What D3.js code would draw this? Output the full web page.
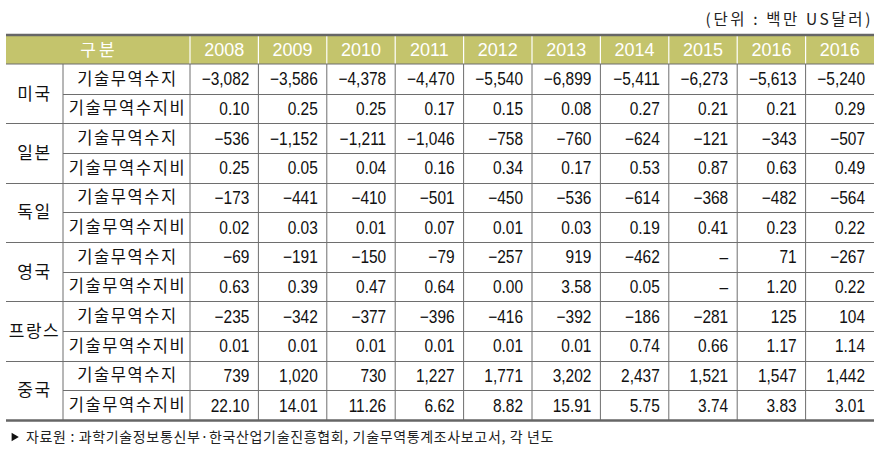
<!DOCTYPE html>
<html><head><meta charset="utf-8">
<script src="https://cdn.jsdelivr.net/npm/d3@7"></script>
<style>
html,body{margin:0;padding:0;background:#fff;}
svg{display:block;}
</style></head>
<body>
<svg id="chart" width="888" height="453"></svg>
<script>
const years = ['2008','2009','2010','2011','2012','2013','2014','2015','2016','2016'];
const countries = ['미국','일본','독일','영국','프랑스','중국'];
const metrics = ['기술무역수지','기술무역수지비'];
const balanceUS = [-3082,-3586,-4378,-4470,-5540,-6899,-5411,-6273,-5613,-5240];
const ratioUS = [0.10,0.25,0.25,0.17,0.15,0.08,0.27,0.21,0.21,0.29];
const balanceJP = [-536,-1152,-1211,-1046,-758,-760,-624,-121,-343,-507];
const ratioJP = [0.25,0.05,0.04,0.16,0.34,0.17,0.53,0.87,0.63,0.49];
const balanceDE = [-173,-441,-410,-501,-450,-536,-614,-368,-482,-564];
const ratioDE = [0.02,0.03,0.01,0.07,0.01,0.03,0.19,0.41,0.23,0.22];
const balanceUK = [-69,-191,-150,-79,-257,919,-462,null,71,-267];
const ratioUK = [0.63,0.39,0.47,0.64,0.00,3.58,0.05,null,1.20,0.22];
const balanceFR = [-235,-342,-377,-396,-416,-392,-186,-281,125,104];
const ratioFR = [0.01,0.01,0.01,0.01,0.01,0.01,0.74,0.66,1.17,1.14];
const balanceCN = [739,1020,730,1227,1771,3202,2437,1521,1547,1442];
const ratioCN = [22.10,14.01,11.26,6.62,8.82,15.91,5.75,3.74,3.83,3.01];
const headerLabel = '구분';
const unitText = '(단위 : 백만 US달러)';
const sourceText = '자료원 : 과학기술정보통신부·한국산업기술진흥협회, 기술무역통계조사보고서, 각 년도';

const seriesByCountry = [
  [balanceUS, ratioUS],[balanceJP, ratioJP],[balanceDE, ratioDE],
  [balanceUK, ratioUK],[balanceFR, ratioFR],[balanceCN, ratioCN]
];

const svg = d3.select('#chart');
const L = 6, labelX = 63, yearX0 = 190, R = 874;
const headTop = 36, headBot = 64, bodyBot = 420;
const lineColor = '#6e6e6e';
const krFont = '"Noto Sans CJK KR", "Noto Sans", sans-serif';
const numFont = '"Liberation Sans", Arial, sans-serif';

const x = d3.scaleBand().domain(d3.range(years.length)).range([yearX0, R]);
const rowKeys = [];
countries.forEach((c,i)=>metrics.forEach((m,j)=>rowKeys.push(i+'-'+j)));
const y = d3.scaleBand().domain(rowKeys).range([headBot, bodyBot]);

// header background
svg.append('rect').attr('x',L).attr('y',headTop).attr('width',R-L).attr('height',headBot-headTop).attr('fill','#c4c46c');

// header white dividers
svg.selectAll('line.hv').data(d3.range(years.length)).enter().append('line')
  .attr('x1',i=>x(i)).attr('x2',i=>x(i)).attr('y1',headTop).attr('y2',headBot)
  .attr('stroke','#ffffff').attr('stroke-width',1.2);

// header text
svg.append('text').attr('x',(L+yearX0)/2+1).attr('y',(headTop+headBot)/2).attr('dy','0.36em')
  .attr('text-anchor','middle').attr('fill','#fff').attr('font-family',krFont).attr('font-size',17)
  .attr('letter-spacing',3).text(headerLabel);
svg.selectAll('text.yr').data(years).enter().append('text')
  .attr('x',(d,i)=>x(i)+x.bandwidth()/2).attr('y',(headTop+headBot)/2).attr('dy','0.36em')
  .attr('text-anchor','middle').attr('fill','#fff').attr('font-family',numFont)
  .attr('font-size',18).text(d=>d);

// body vertical lines
const vlines = [labelX].concat(d3.range(years.length).map(i=>x(i)));
svg.selectAll('line.bv').data(vlines).enter().append('line')
  .attr('x1',d=>d).attr('x2',d=>d).attr('y1',headBot).attr('y2',bodyBot)
  .attr('stroke',lineColor).attr('stroke-width',1);

// horizontal lines
rowKeys.forEach((k,idx)=>{
  if(idx===0) return;
  const j = +k.split('-')[1];
  svg.append('line').attr('x1', j===0 ? L : labelX).attr('x2',R)
    .attr('y1',Math.round(y(k))+0.5).attr('y2',Math.round(y(k))+0.5)
    .attr('stroke',lineColor).attr('stroke-width',1);
});
svg.append('line').attr('x1',L).attr('x2',R).attr('y1',headBot).attr('y2',headBot).attr('stroke',lineColor).attr('stroke-width',1);
svg.append('line').attr('x1',L).attr('x2',R).attr('y1',headTop-1).attr('y2',headTop-1).attr('stroke','#666').attr('stroke-width',2.5);
svg.append('line').attr('x1',L).attr('x2',R).attr('y1',bodyBot+0.5).attr('y2',bodyBot+0.5).attr('stroke','#666').attr('stroke-width',2.5);

// country labels
svg.selectAll('text.cty').data(countries).enter().append('text')
  .attr('x',(L+labelX)/2).attr('y',(d,i)=>y(i+'-0')+y.bandwidth())
  .attr('dy','0.36em').attr('text-anchor','middle').attr('font-family',krFont).attr('font-size',17)
  .attr('letter-spacing',1.5).attr('fill','#111').text(d=>d);

// metric labels
rowKeys.forEach(k=>{
  const j = +k.split('-')[1];
  svg.append('text').attr('x',(labelX+yearX0)/2+1).attr('y',y(k)+y.bandwidth()/2).attr('dy','0.36em')
    .attr('text-anchor','middle').attr('font-family',krFont).attr('font-size',16.5)
    .attr('letter-spacing',1.6).attr('fill','#111').text(metrics[j]);
});

// values (condensed)
const fmtInt = d3.format(',');
const fmtRatio = d3.format('.2f');
const fmt = (v,j)=> v==null ? '–' : (j===0 ? (v<0 ? '−'+fmtInt(-v) : fmtInt(v)) : fmtRatio(v));
seriesByCountry.forEach((pair,i)=>pair.forEach((arr,j)=>{
  const k = i+'-'+j;
  svg.append('g').selectAll('text').data(arr).enter().append('text')
    .attr('transform',(d,c)=>`translate(${x(c)+x.bandwidth()-9},${y(k)+y.bandwidth()/2}) scale(0.86,1)`)
    .attr('dy','0.36em')
    .attr('text-anchor','end').attr('font-family',numFont).attr('font-size',18)
    .attr('fill','#111').text(d=>fmt(d,j));
}));

// unit
svg.append('text').attr('x',R-1).attr('y',19).attr('dy','0.36em').attr('text-anchor','end')
  .attr('font-family',krFont).attr('font-size',15.5).attr('letter-spacing',2.6).attr('fill','#222').text(unitText);

// footer
svg.append('path').attr('d',d3.symbol().type(d3.symbolTriangle).size(30)).attr('fill','#111')
  .attr('transform','translate(14,437) rotate(90)');
svg.append('text').attr('x',26).attr('y',437).attr('dy','0.36em').attr('font-family',krFont)
  .attr('font-size',14).attr('letter-spacing',0.65).attr('fill','#222').text(sourceText);
</script>
</body></html>
